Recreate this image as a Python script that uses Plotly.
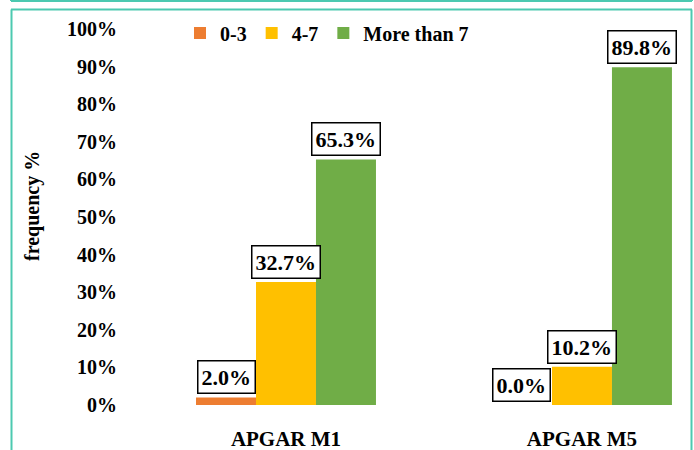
import plotly.graph_objects as go

categories = ["APGAR M1", "APGAR M5"]
series_names = ["0-3", "4-7", "More than 7"]
values_0_3 = [2.0, 0.0]
values_4_7 = [32.7, 10.2]
values_more_7 = [65.3, 89.8]
colors = ["#ED7D31", "#FFC000", "#70AD47"]
y_ticks = list(range(0, 101, 10))

W, H = 694, 450
L, R, T, B = 138, 4, 20, 45
bargap = 0.392
FONT = "Liberation Serif"

series = [values_0_3, values_4_7, values_more_7]

fig = go.Figure()
for name, vals, col in zip(series_names, series, colors):
    fig.add_trace(go.Bar(x=categories, y=vals, name=name, marker=dict(color=col, line=dict(width=0))))

bw = (1 - bargap) / len(series)
annotations = []
for si, vals in enumerate(series):
    off = (si - (len(series) - 1) / 2) * bw
    for ci, v in enumerate(vals):
        annotations.append(dict(
            x=ci + off, y=v, xref="x", yref="y", text=f"{v:.1f}%",
            showarrow=False, xanchor="center", yanchor="bottom", yshift=3,
            font=dict(family=FONT, size=22, color="black", weight="bold"),
            bgcolor="white", bordercolor="black", borderwidth=1.5, borderpad=3,
        ))

def px(p):
    return (p - L) / (W - L - R)

def py(p):
    return (H - B - p) / (H - B - T)

annotations.append(dict(
    x=px(32), y=py(206), xref="paper", yref="paper", xanchor="center", yanchor="middle",
    text="frequency %", textangle=-90, showarrow=False,
    font=dict(family=FONT, size=20, color="black", weight="bold"),
))

teal = "#4CC9B0"
shapes = [
    dict(type="line", xref="paper", yref="paper", x0=px(11), x1=px(692), y0=py(1), y1=py(1), line=dict(color=teal, width=2)),
    dict(type="line", xref="paper", yref="paper", x0=px(11), x1=px(11), y0=py(-2), y1=py(1), line=dict(color=teal, width=2)),
    dict(type="line", xref="paper", yref="paper", x0=px(692), x1=px(692), y0=py(-2), y1=py(1), line=dict(color=teal, width=2)),
    dict(type="line", xref="paper", yref="paper", x0=px(11), x1=px(692), y0=py(9.5), y1=py(9.5), line=dict(color=teal, width=2)),
    dict(type="line", xref="paper", yref="paper", x0=px(11.5), x1=px(11.5), y0=py(9.5), y1=py(452), line=dict(color=teal, width=2)),
    dict(type="line", xref="paper", yref="paper", x0=px(691.5), x1=px(691.5), y0=py(9.5), y1=py(452), line=dict(color=teal, width=2)),
]

fig.update_layout(
    width=W, height=H,
    margin=dict(l=L, r=R, t=T, b=B, autoexpand=False),
    barmode="group", bargap=bargap, bargroupgap=0,
    plot_bgcolor="white", paper_bgcolor="white",
    showlegend=True,
    legend=dict(orientation="h", x=px(180), y=py(33), xanchor="left", yanchor="middle",
                font=dict(family=FONT, size=20, color="black", weight="bold"),
                bgcolor="rgba(0,0,0,0)", itemwidth=30, traceorder="normal"),
    xaxis=dict(range=[-0.5, 1.365], showgrid=False, showline=False, zeroline=False,
               ticks="", ticklabelstandoff=19,
               tickfont=dict(family=FONT, size=21, color="black", weight="bold")),
    yaxis=dict(range=[0, 102.4], tickvals=y_ticks, ticktext=[f"{t}%" for t in y_ticks],
               showgrid=False, showline=False, zeroline=False, ticks="", ticklabelstandoff=20,
               tickfont=dict(family=FONT, size=20, color="black", weight="bold")),
    annotations=annotations, shapes=shapes,
)

fig.write_html("out.html", config={"displayModeBar": False},
               post_script="document.body.style.margin='0';document.body.style.overflow='hidden';")
